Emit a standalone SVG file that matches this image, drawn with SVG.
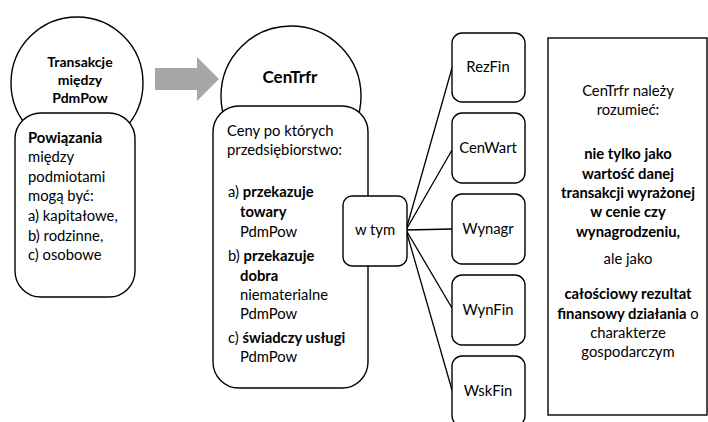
<svg xmlns="http://www.w3.org/2000/svg" width="708" height="422" viewBox="0 0 708 422">
<style>
  .shape { fill: #ffffff; stroke: #000000; stroke-width: 1.4; }
  .conn { stroke: #000000; stroke-width: 1.3; fill: none; }
  text { font-family: Lato, "Open Sans", "Liberation Sans", sans-serif; font-size: 14.8px; fill: #000000; }
  .b { font-weight: bold; }
  .c { text-anchor: middle; }
  .t { font-size: 14px; font-weight: bold; text-anchor: middle; }
</style>
<rect x="0" y="0" width="708" height="422" fill="#ffffff"/>

<g id="arrow">
  <polygon points="155,68 197,68 197,57 219,79 197,101 197,90 155,90" fill="#a6a6a6"/>
</g>

<g id="node-transakcje">
  <circle class="shape" cx="77" cy="83" r="66"/>
  <text class="t" x="80" y="67">Transakcje</text>
  <text class="t" x="80" y="85">między</text>
  <text class="t" x="80" y="103">PdmPow</text>
</g>

<g id="node-powiazania">
  <rect class="shape" x="15" y="113" width="120" height="184" rx="26" ry="26"/>
  <text x="28" y="143"><tspan class="b">Powiązania</tspan></text>
  <text x="28" y="162">między</text>
  <text x="28" y="182">podmiotami</text>
  <text x="28" y="201">mogą być:</text>
  <text x="28" y="221">a) kapitałowe,</text>
  <text x="28" y="241">b) rodzinne,</text>
  <text x="28" y="260">c) osobowe</text>
</g>

<g id="node-centrfr">
  <circle class="shape" cx="291" cy="96" r="70"/>
  <text class="t" x="290" y="83" style="font-size:17px">CenTrfr</text>
</g>

<g id="node-ceny">
  <rect class="shape" x="213" y="106" width="155" height="282" rx="26" ry="26"/>
  <text x="227" y="136">Ceny po których</text>
  <text x="227" y="155">przedsiębiorstwo:</text>
  <text x="228" y="197">a) <tspan class="b">przekazuje</tspan></text>
  <text x="240" y="217" class="b">towary</text>
  <text x="240" y="237">PdmPow</text>
  <text x="228" y="261">b) <tspan class="b">przekazuje</tspan></text>
  <text x="240" y="281" class="b">dobra</text>
  <text x="240" y="300">niematerialne</text>
  <text x="240" y="319">PdmPow</text>
  <text x="228" y="343">c) <tspan class="b">świadczy usługi</tspan></text>
  <text x="240" y="362">PdmPow</text>
</g>

<g id="connectors">
  <line class="conn" x1="406" y1="230" x2="452" y2="68"/>
  <line class="conn" x1="406" y1="230" x2="452" y2="150"/>
  <line class="conn" x1="406" y1="230" x2="452" y2="229"/>
  <line class="conn" x1="406" y1="230" x2="452" y2="308"/>
  <line class="conn" x1="406" y1="230" x2="452" y2="390"/>
</g>

<g id="node-wtym">
  <rect class="shape" x="343" y="196" width="64" height="70" rx="9" ry="9"/>
  <text class="c" x="375" y="235">w tym</text>
</g>

<g id="node-rezfin">
  <rect class="shape" x="452" y="33" width="73" height="69" rx="10" ry="10"/>
  <text class="c" x="488" y="72">RezFin</text>
</g>
<g id="node-cenwart">
  <rect class="shape" x="452" y="113" width="73" height="70" rx="10" ry="10"/>
  <text class="c" x="488" y="153">CenWart</text>
</g>
<g id="node-wynagr">
  <rect class="shape" x="452" y="194" width="73" height="70" rx="10" ry="10"/>
  <text class="c" x="488" y="234">Wynagr</text>
</g>
<g id="node-wynfin">
  <rect class="shape" x="452" y="275" width="73" height="70" rx="10" ry="10"/>
  <text class="c" x="488" y="315">WynFin</text>
</g>
<g id="node-wskfin">
  <rect class="shape" x="452" y="356" width="73" height="70" rx="10" ry="10"/>
  <text class="c" x="488" y="396">WskFin</text>
</g>

<g id="node-opis">
  <rect class="shape" x="548" y="38" width="159" height="377"/>
  <text class="c" x="628" y="96">CenTrfr należy</text>
  <text class="c" x="628" y="115">rozumieć:</text>
  <text class="c b" x="628" y="159">nie tylko jako</text>
  <text class="c b" x="628" y="179">wartość danej</text>
  <text class="c b" x="628" y="198">transakcji wyrażonej</text>
  <text class="c b" x="628" y="217">w cenie czy</text>
  <text class="c b" x="628" y="237">wynagrodzeniu,</text>
  <text class="c" x="628" y="264">ale jako</text>
  <text class="c b" x="628" y="299">całościowy rezultat</text>
  <text class="c" x="628" y="319"><tspan class="b">finansowy działania</tspan> o</text>
  <text class="c" x="628" y="338">charakterze</text>
  <text class="c" x="628" y="357">gospodarczym</text>
</g>
</svg>
